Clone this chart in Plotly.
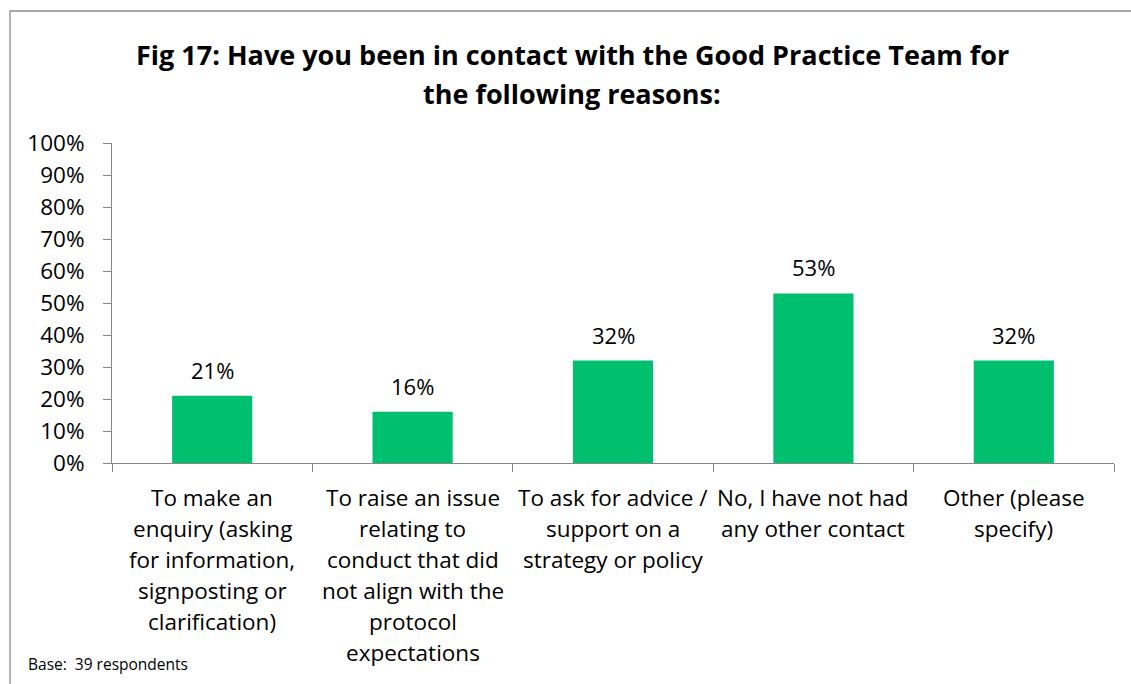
import plotly.graph_objects as go

# Survey responses: share of respondents per contact reason
categories = [
    "To make an<br>enquiry (asking<br>for information,<br>signposting or<br>clarification)",
    "To raise an issue<br>relating to<br>conduct that did<br>not align with the<br>protocol<br>expectations",
    "To ask for advice /<br>support on a<br>strategy or policy",
    "No, I have not had<br>any other contact",
    "Other (please<br>specify)",
]
values = [21, 16, 32, 53, 32]
value_labels = ["21%", "16%", "32%", "53%", "32%"]
y_ticks = list(range(0, 101, 10))
y_tick_labels = [f"{v}%" for v in y_ticks]

FONT = "Open Sans"
W, H = 1131, 684
ML, MR, MT, MB = 112, 17, 143, 221
PW, PH = W - ML - MR, H - MT - MB


def py(pixel_y):
    """Paper y coordinate for a pixel row of the page."""
    return (MT + PH - pixel_y) / PH


def px(pixel_x):
    """Paper x coordinate for a pixel column of the page."""
    return (pixel_x - ML) / PW


fig = go.Figure()
fig.add_trace(go.Bar(
    x=list(range(len(categories))),
    y=values,
    marker=dict(color="#00BF6F", line=dict(width=0)),
    width=0.4,
    hoverinfo="skip",
))

annotations = []
# value labels above bars
for i, (v, lab) in enumerate(zip(values, value_labels)):
    annotations.append(dict(
        x=i, y=v, xref="x", yref="y", text=lab, showarrow=False,
        yanchor="middle", yshift=26,
        font=dict(family=FONT, size=22, color="#000000"),
    ))
# category labels, one line at a time for wider line spacing
for i, cat in enumerate(categories):
    for j, line in enumerate(cat.split("<br>")):
        annotations.append(dict(
            x=i, y=0, xref="x", yref="paper", text=line, showarrow=False,
            yanchor="middle", yshift=-34 - 31 * j,
            font=dict(family=FONT, size=22.5, color="#000000"),
        ))
# title
title_lines = [
    "Fig 17: Have you been in contact with the Good Practice Team for",
    "the following reasons:",
]
for j, line in enumerate(title_lines):
    annotations.append(dict(
        x=px(572), y=py(54 + 39 * j), xref="paper", yref="paper",
        text=f"<b>{line}</b>", showarrow=False,
        xanchor="center", yanchor="middle",
        font=dict(family=FONT, size=27, color="#000000"),
    ))
# base note
annotations.append(dict(
    x=px(26), y=py(664), xref="paper", yref="paper",
    text="Base:  39 respondents", showarrow=False,
    xanchor="left", yanchor="middle",
    font=dict(family=FONT, size=15.5, color="#000000"),
))

fig.update_layout(
    width=W, height=H,
    margin=dict(l=ML, r=MR, t=MT, b=MB, pad=0),
    paper_bgcolor="white", plot_bgcolor="white",
    showlegend=False,
    annotations=annotations,
    shapes=[dict(
        type="rect", xref="paper", yref="paper",
        x0=px(10), x1=px(1140), y0=py(700), y1=py(11),
        line=dict(color="#8C8C8C", width=1.3), fillcolor="rgba(0,0,0,0)",
        layer="below",
    )],
    xaxis=dict(
        type="linear", range=[-0.5, len(categories) - 0.5],
        tickvals=[k - 0.5 for k in range(len(categories) + 1)],
        showticklabels=False, ticks="outside", ticklen=8, tickcolor="#868686",
        showline=True, linecolor="#868686", linewidth=1,
        showgrid=False, zeroline=False, fixedrange=True,
    ),
    yaxis=dict(
        range=[0, 100], tickvals=y_ticks, ticktext=y_tick_labels,
        ticks="outside", ticklen=8, tickcolor="#868686",
        ticklabelstandoff=14,
        showline=True, linecolor="#868686", linewidth=1,
        showgrid=False, zeroline=False,
        tickfont=dict(family=FONT, size=22.5, color="#000000"),
        fixedrange=True,
    ),
)

fig.write_html("out.html", config={"displayModeBar": False})
